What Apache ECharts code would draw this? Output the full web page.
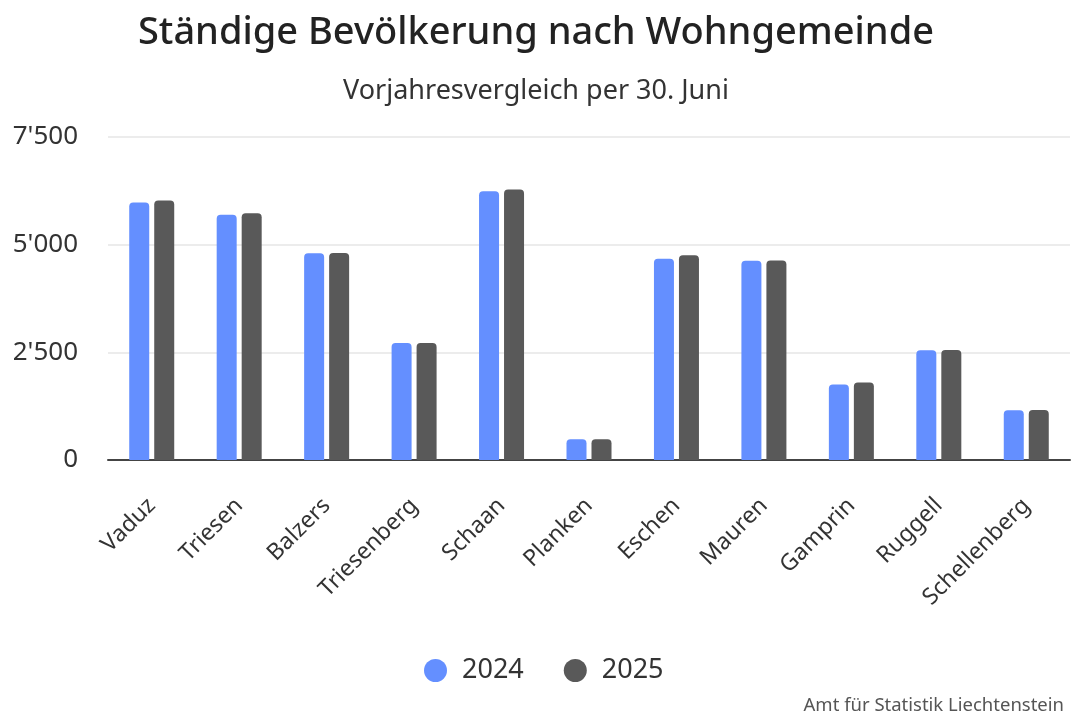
<!DOCTYPE html>
<html>
<head>
<meta charset="utf-8">
<script src="https://cdn.jsdelivr.net/npm/echarts@6/dist/echarts.min.js"></script>
<style>
  html, body { margin: 0; padding: 0; background: #fff; }
  #chart { width: 1072px; height: 720px; }
</style>
</head>
<body>
<div id="chart"></div>
<script>
var gemeinden = ['Vaduz', 'Triesen', 'Balzers', 'Triesenberg', 'Schaan', 'Planken', 'Eschen', 'Mauren', 'Gamprin', 'Ruggell', 'Schellenberg'];
var werte2024 = [5978, 5693, 4803, 2718, 6240, 479, 4673, 4627, 1754, 2549, 1158];
var werte2025 = [6024, 5730, 4806, 2718, 6279, 480, 4757, 4630, 1800, 2552, 1160];
var jahre = ['2024', '2025'];
var farben = ['#648fff', '#595959'];

var myChart = echarts.init(document.getElementById('chart'));

function fmt(v) {
    // Tausendertrennzeichen als Apostroph
    return String(v).replace(/\B(?=(\d{3})+(?!\d))/g, "'");
}

var option = {
    backgroundColor: '#ffffff',
    textStyle: { fontFamily: 'Noto Sans' },
    title: [{
        text: 'Ständige Bevölkerung nach Wohngemeinde',
        left: 'center',
        top: 9,
        textStyle: { fontSize: 38, fontWeight: 500, color: '#222', fontFamily: 'Noto Sans' }
    }, {
        text: 'Vorjahresvergleich per 30. Juni',
        left: 'center',
        top: 73,
        textStyle: { fontSize: 27, fontWeight: 'normal', color: '#333', fontFamily: 'Noto Sans' }
    }, {
        text: 'Amt für Statistik Liechtenstein',
        right: 3,
        bottom: 0,
        textStyle: { fontSize: 18.5, fontWeight: 'normal', color: '#555', fontFamily: 'Noto Sans' }
    }],
    legend: {
        data: jahre,
        bottom: 31,
        left: 419,
        icon: 'circle',
        itemWidth: 23,
        itemHeight: 23,
        itemGap: 40,
        textStyle: { fontSize: 27, color: '#333', padding: [0, 0, 0, 10] }
    },
    grid: {
        left: 108,
        right: 2,
        top: 137,
        height: 323
    },
    xAxis: {
        type: 'category',
        data: gemeinden,
        axisTick: { show: false },
        axisLine: { lineStyle: { color: '#444', width: 2 } },
        axisLabel: {
            rotate: 45,
            fontSize: 23,
            color: '#333',
            margin: 42,
            interval: 0
        }
    },
    yAxis: {
        type: 'value',
        min: 0,
        max: 7500,
        interval: 2500,
        axisLine: { show: false },
        axisTick: { show: false },
        splitLine: { lineStyle: { color: '#e6e6e6', width: 1.5 } },
        axisLabel: {
            fontSize: 26,
            color: '#333',
            margin: 30,
            formatter: fmt
        }
    },
    series: [{
        name: jahre[0],
        type: 'bar',
        data: werte2024,
        barWidth: 20,
        barGap: '25%',
        itemStyle: { color: farben[0], borderRadius: [4, 4, 0, 0] }
    }, {
        name: jahre[1],
        type: 'bar',
        data: werte2025,
        barWidth: 20,
        itemStyle: { color: farben[1], borderRadius: [4, 4, 0, 0] }
    }]
};

myChart.setOption(option);
</script>
</body>
</html>
